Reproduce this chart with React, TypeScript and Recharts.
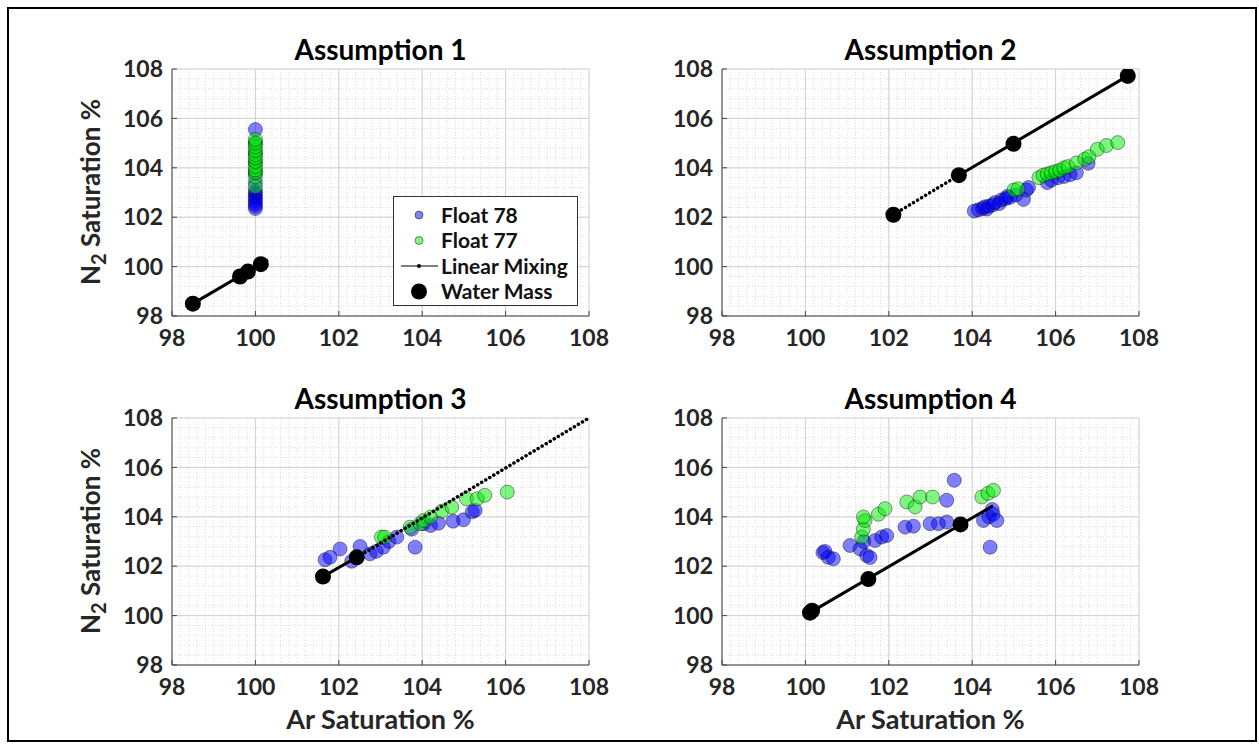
import React from "react";
import { ScatterChart, Scatter, XAxis, YAxis, CartesianGrid, Legend } from "recharts";

type Pt = { x: number; y: number };

const FONT = "Lato, 'Open Sans', sans-serif";

// axis ticks (same on both axes of every panel)
const majorTicks = [98, 100, 102, 104, 106, 108];
const minorXTicks = Array.from({ length: 51 }, (_, i) => +(98 + i * 0.2).toFixed(1));
const minorYTicks = Array.from({ length: 26 }, (_, i) => +(98 + i * 0.4).toFixed(1));

const titles = ["Assumption 1", "Assumption 2", "Assumption 3", "Assumption 4"];
const xLabel = "Ar Saturation %";

// ---- Assumption 1 ----
const a1Float78: Pt[] = [
  { x: 100, y: 105.55 }, { x: 100, y: 105.0 }, { x: 100, y: 104.6 }, { x: 100, y: 104.2 },
  { x: 100, y: 103.8 }, { x: 100, y: 103.4 }, { x: 100, y: 103.05 }, { x: 100, y: 102.95 },
  { x: 100, y: 102.85 }, { x: 100, y: 102.75 }, { x: 100, y: 102.65 }, { x: 100, y: 102.55 },
  { x: 100, y: 102.45 }, { x: 100, y: 102.35 },
];
const a1Float77: Pt[] = [
  { x: 100, y: 103.23 }, { x: 100, y: 103.64 }, { x: 100, y: 103.8 }, { x: 100, y: 103.91 },
  { x: 100, y: 104.05 }, { x: 100, y: 104.25 }, { x: 100, y: 104.4 }, { x: 100, y: 104.52 },
  { x: 100, y: 104.7 }, { x: 100, y: 104.85 }, { x: 100, y: 105.0 }, { x: 100, y: 105.15 },
];
const a1Water: Pt[] = [
  { x: 98.5, y: 98.5 }, { x: 99.63, y: 99.6 }, { x: 99.82, y: 99.8 }, { x: 100.13, y: 100.1 },
];
const a1MixSolid: Pt[] = [{ x: 98.5, y: 98.5 }, { x: 100.3, y: 100.28 }];
const a1MixDotted: Pt[] = [];

// ---- Assumption 2 ----
const a2Float78: Pt[] = [
  { x: 104.05, y: 102.25 }, { x: 104.15, y: 102.3 }, { x: 104.25, y: 102.35 }, { x: 104.35, y: 102.33 },
  { x: 104.3, y: 102.42 }, { x: 104.4, y: 102.45 }, { x: 104.5, y: 102.5 }, { x: 104.55, y: 102.6 },
  { x: 104.65, y: 102.55 }, { x: 104.7, y: 102.7 }, { x: 104.8, y: 102.75 }, { x: 104.85, y: 102.85 },
  { x: 104.9, y: 102.8 }, { x: 105.05, y: 102.9 }, { x: 105.23, y: 102.72 }, { x: 105.3, y: 103.1 },
  { x: 105.35, y: 103.2 }, { x: 105.8, y: 103.4 }, { x: 105.9, y: 103.5 }, { x: 106.05, y: 103.6 },
  { x: 106.2, y: 103.65 }, { x: 106.35, y: 103.72 }, { x: 106.5, y: 103.8 }, { x: 106.78, y: 104.18 },
];
const a2Float77: Pt[] = [
  { x: 105.0, y: 103.1 }, { x: 105.1, y: 103.15 }, { x: 105.6, y: 103.6 }, { x: 105.7, y: 103.7 },
  { x: 105.8, y: 103.75 }, { x: 105.9, y: 103.8 }, { x: 106.0, y: 103.85 }, { x: 106.1, y: 103.9 },
  { x: 106.2, y: 104.0 }, { x: 106.3, y: 104.05 }, { x: 106.5, y: 104.2 }, { x: 106.7, y: 104.35 },
  { x: 106.8, y: 104.45 }, { x: 107.0, y: 104.75 }, { x: 107.22, y: 104.9 }, { x: 107.49, y: 105.02 },
];
const a2Water: Pt[] = [
  { x: 102.11, y: 102.1 }, { x: 103.68, y: 103.7 }, { x: 104.99, y: 104.97 }, { x: 107.73, y: 107.72 },
];
const a2MixSolid: Pt[] = [{ x: 103.68, y: 103.7 }, { x: 107.73, y: 107.72 }];
const a2MixDotted: Pt[] = [{ x: 102.11, y: 102.1 }, { x: 103.68, y: 103.7 }];

// ---- Assumption 3 ----
const a3Float78: Pt[] = [
  { x: 101.67, y: 102.26 }, { x: 101.79, y: 102.36 }, { x: 102.03, y: 102.7 }, { x: 102.31, y: 102.2 },
  { x: 102.51, y: 102.8 }, { x: 102.75, y: 102.5 }, { x: 102.9, y: 102.6 }, { x: 103.07, y: 102.77 },
  { x: 103.2, y: 103.0 }, { x: 103.39, y: 103.18 }, { x: 103.75, y: 103.5 }, { x: 103.83, y: 102.77 },
  { x: 104.03, y: 103.72 }, { x: 104.2, y: 103.65 }, { x: 104.39, y: 103.74 }, { x: 104.74, y: 103.82 },
  { x: 104.99, y: 103.88 }, { x: 105.2, y: 104.2 }, { x: 105.27, y: 104.26 },
];
const a3Float77: Pt[] = [
  { x: 103.02, y: 103.18 }, { x: 103.1, y: 103.18 }, { x: 103.71, y: 103.58 }, { x: 103.95, y: 103.72 },
  { x: 104.03, y: 103.85 }, { x: 104.2, y: 103.99 }, { x: 104.47, y: 104.23 }, { x: 104.71, y: 104.39 },
  { x: 105.06, y: 104.73 }, { x: 105.32, y: 104.73 }, { x: 105.5, y: 104.87 }, { x: 106.04, y: 105.0 },
];
const a3Water: Pt[] = [{ x: 101.62, y: 101.58 }, { x: 102.43, y: 102.36 }];
const a3MixSolid: Pt[] = [{ x: 101.62, y: 101.58 }, { x: 102.43, y: 102.36 }];
const a3MixDotted: Pt[] = [{ x: 102.43, y: 102.36 }, { x: 108, y: 108 }];

// ---- Assumption 4 ----
const a4Float78: Pt[] = [
  { x: 100.42, y: 102.55 }, { x: 100.47, y: 102.6 }, { x: 100.55, y: 102.36 }, { x: 100.67, y: 102.3 },
  { x: 101.07, y: 102.84 }, { x: 101.31, y: 102.7 }, { x: 101.4, y: 103.0 }, { x: 101.47, y: 102.43 },
  { x: 101.55, y: 102.35 }, { x: 101.67, y: 103.04 }, { x: 101.83, y: 103.18 }, { x: 101.95, y: 103.24 },
  { x: 102.39, y: 103.58 }, { x: 102.59, y: 103.62 }, { x: 102.99, y: 103.72 }, { x: 103.19, y: 103.72 },
  { x: 103.39, y: 103.79 }, { x: 103.39, y: 104.67 }, { x: 103.57, y: 105.48 }, { x: 104.27, y: 103.85 },
  { x: 104.4, y: 104.0 }, { x: 104.48, y: 104.3 }, { x: 104.5, y: 104.1 }, { x: 104.59, y: 103.85 },
  { x: 104.43, y: 102.77 },
];
const a4Float77: Pt[] = [
  { x: 101.35, y: 103.18 }, { x: 101.39, y: 103.5 }, { x: 101.43, y: 103.85 }, { x: 101.39, y: 103.99 },
  { x: 101.75, y: 104.1 }, { x: 101.91, y: 104.33 }, { x: 102.43, y: 104.6 }, { x: 102.63, y: 104.4 },
  { x: 102.75, y: 104.8 }, { x: 103.05, y: 104.8 }, { x: 104.23, y: 104.8 }, { x: 104.38, y: 104.95 },
  { x: 104.51, y: 105.07 },
];
const a4Water: Pt[] = [
  { x: 100.11, y: 100.12 }, { x: 100.16, y: 100.2 }, { x: 101.51, y: 101.48 }, { x: 103.72, y: 103.69 },
];
const a4MixSolid: Pt[] = [{ x: 100.11, y: 100.12 }, { x: 104.5, y: 104.45 }];
const a4MixDotted: Pt[] = [];

const BLUE = "#0000ff";
const GREEN = "#00ee00";

const floatShape = (color: string) => (p: any) => (
  <circle
    cx={p.cx}
    cy={p.cy}
    r={7}
    fill={color}
    fillOpacity={0.5}
    stroke="#000000"
    strokeOpacity={0.45}
    strokeWidth={0.9}
  />
);
const waterShape = (p: any) => <circle cx={p.cx} cy={p.cy} r={8} fill="#000" />;
const noShape = () => <g />;

const tickStyle = { fill: "#262626", fontSize: 23, fontWeight: 700, fontFamily: FONT };

const LegendBox = () => {
  const rows = [18, 43.5, 69, 94.5];
  const txt = { fontSize: 21, fontWeight: 700, fontFamily: FONT, fill: "#111" };
  return (
    <div
      style={{
        width: 185,
        height: 110,
        boxSizing: "border-box",
        border: "1px solid #333",
        background: "#fff",
      }}
    >
      <svg width={183} height={108} style={{ display: "block" }}>
        <circle cx={25} cy={rows[0]} r={4} fill={BLUE} fillOpacity={0.5} stroke="#000" strokeOpacity={0.45} />
        <text x={47} y={rows[0] + 7.5} {...txt}>Float 78</text>
        <circle cx={25} cy={rows[1]} r={4} fill={GREEN} fillOpacity={0.5} stroke="#000" strokeOpacity={0.45} />
        <text x={47} y={rows[1] + 7.5} {...txt}>Float 77</text>
        <line x1={7} x2={44} y1={rows[2]} y2={rows[2]} stroke="#000" strokeWidth={1} />
        <circle cx={25} cy={rows[2]} r={2} fill="#000" />
        <text x={47} y={rows[2] + 7.5} {...txt}>Linear Mixing</text>
        <circle cx={25} cy={rows[3]} r={8} fill="#000" />
        <text x={47} y={rows[3] + 7.5} {...txt}>Water Mass</text>
      </svg>
    </div>
  );
};

type PanelProps = {
  left: number;
  top: number;
  f78: Pt[];
  f77: Pt[];
  water: Pt[];
  mixSolid: Pt[];
  mixDotted: Pt[];
  legend?: boolean;
};

const Panel = ({ left, top, f78, f77, water, mixSolid, mixDotted, legend }: PanelProps) => (
  <div style={{ position: "absolute", left: left - 80, top: top - 25 }}>
    <ScatterChart width={517} height={312} margin={{ top: 25, right: 20, left: 0, bottom: 0 }}>
      <CartesianGrid
        verticalValues={minorXTicks}
        horizontalValues={minorYTicks}
        stroke="#dcdcdc"
        strokeDasharray="1 2"
      />
      <CartesianGrid verticalValues={majorTicks} horizontalValues={majorTicks} stroke="#d0d0d0" />
      <XAxis
        xAxisId="minor"
        type="number"
        dataKey="x"
        domain={[98, 108]}
        allowDataOverflow
        ticks={minorXTicks}
        interval={0}
        mirror
        height={0}
        tick={false}
        tickSize={3}
        axisLine={false}
        tickLine={{ stroke: "#444" }}
      />
      <YAxis
        yAxisId="minor"
        type="number"
        dataKey="y"
        domain={[98, 108]}
        allowDataOverflow
        ticks={minorYTicks}
        interval={0}
        mirror
        width={0}
        tick={false}
        tickSize={3}
        axisLine={false}
        tickLine={{ stroke: "#444" }}
      />
      <XAxis
        type="number"
        dataKey="x"
        domain={[98, 108]}
        allowDataOverflow
        ticks={majorTicks}
        interval={0}
        height={40}
        tickSize={-5}
        tickMargin={19}
        tick={tickStyle}
        axisLine={{ stroke: "#444" }}
        tickLine={{ stroke: "#444" }}
      />
      <YAxis
        type="number"
        dataKey="y"
        domain={[98, 108]}
        allowDataOverflow
        ticks={majorTicks}
        interval={0}
        width={80}
        tickSize={-5}
        tickMargin={14}
        tick={tickStyle}
        axisLine={{ stroke: "#444" }}
        tickLine={{ stroke: "#444" }}
      />
      <Scatter name="Float 78" data={f78} shape={floatShape(BLUE)} isAnimationActive={false} />
      <Scatter name="Float 77" data={f77} shape={floatShape(GREEN)} isAnimationActive={false} />
      {mixSolid.length > 0 && (
        <Scatter
          name="Linear Mixing"
          data={mixSolid}
          fill="#000"
          line={{ stroke: "#000", strokeWidth: 3 }}
          shape={noShape}
          isAnimationActive={false}
        />
      )}
      {mixDotted.length > 0 && (
        <Scatter
          name="Linear Mixing (dotted)"
          data={mixDotted}
          fill="#000"
          line={{ stroke: "#000", strokeWidth: 3.5, strokeDasharray: "0.1 4.6", strokeLinecap: "round" }}
          shape={noShape}
          isAnimationActive={false}
        />
      )}
      <Scatter name="Water Mass" data={water} shape={waterShape} isAnimationActive={false} />
      {legend && (
        <Legend
          layout="vertical"
          align="center"
          verticalAlign="middle"
          wrapperStyle={{ left: 301, top: 152, width: 185, height: 110 }}
          content={() => <LegendBox />}
        />
      )}
    </ScatterChart>
  </div>
);

const YLabel = ({ cx, cy }: { cx: number; cy: number }) => (
  <text
    transform={`rotate(-90 ${cx} ${cy})`}
    x={cx}
    y={cy}
    textAnchor="middle"
    fontSize={26}
    fontWeight={700}
    fontFamily={FONT}
    fill="#262626"
  >
    N
    <tspan dy={6} fontSize={20}>2</tspan>
    <tspan dy={-6}> Saturation %</tspan>
  </text>
);

export default function App() {
  const titleStyle = { fontSize: 28, fontWeight: 700, fontFamily: FONT, fill: "#000" };
  const xlStyle = { fontSize: 27, fontWeight: 700, fontFamily: FONT, fill: "#262626" };
  return (
    <div
      style={{
        position: "absolute",
        left: 0,
        top: 0,
        width: 1259,
        height: 745,
        background: "#fff",
        overflow: "hidden",
      }}
    >
      <Panel left={172} top={69} f78={a1Float78} f77={a1Float77} water={a1Water} mixSolid={a1MixSolid} mixDotted={a1MixDotted} legend />
      <Panel left={722} top={69} f78={a2Float78} f77={a2Float77} water={a2Water} mixSolid={a2MixSolid} mixDotted={a2MixDotted} />
      <Panel left={172} top={418} f78={a3Float78} f77={a3Float77} water={a3Water} mixSolid={a3MixSolid} mixDotted={a3MixDotted} />
      <Panel left={722} top={418} f78={a4Float78} f77={a4Float77} water={a4Water} mixSolid={a4MixSolid} mixDotted={a4MixDotted} />
      <svg
        width={1259}
        height={745}
        style={{ position: "absolute", left: 0, top: 0, pointerEvents: "none" }}
      >
        <text x={380.5} y={60} textAnchor="middle" {...titleStyle}>{titles[0]}</text>
        <text x={930.5} y={60} textAnchor="middle" {...titleStyle}>{titles[1]}</text>
        <text x={380.5} y={409} textAnchor="middle" {...titleStyle}>{titles[2]}</text>
        <text x={930.5} y={409} textAnchor="middle" {...titleStyle}>{titles[3]}</text>
        <text x={380.5} y={729} textAnchor="middle" {...xlStyle}>{xLabel}</text>
        <text x={930.5} y={729} textAnchor="middle" {...xlStyle}>{xLabel}</text>
        <YLabel cx={100} cy={192} />
        <YLabel cx={100} cy={541} />
      </svg>
      <div
        style={{
          position: "absolute",
          left: 7,
          top: 7,
          width: 1250,
          height: 735,
          border: "2px solid #000",
          boxSizing: "border-box",
          pointerEvents: "none",
        }}
      />
    </div>
  );
}
